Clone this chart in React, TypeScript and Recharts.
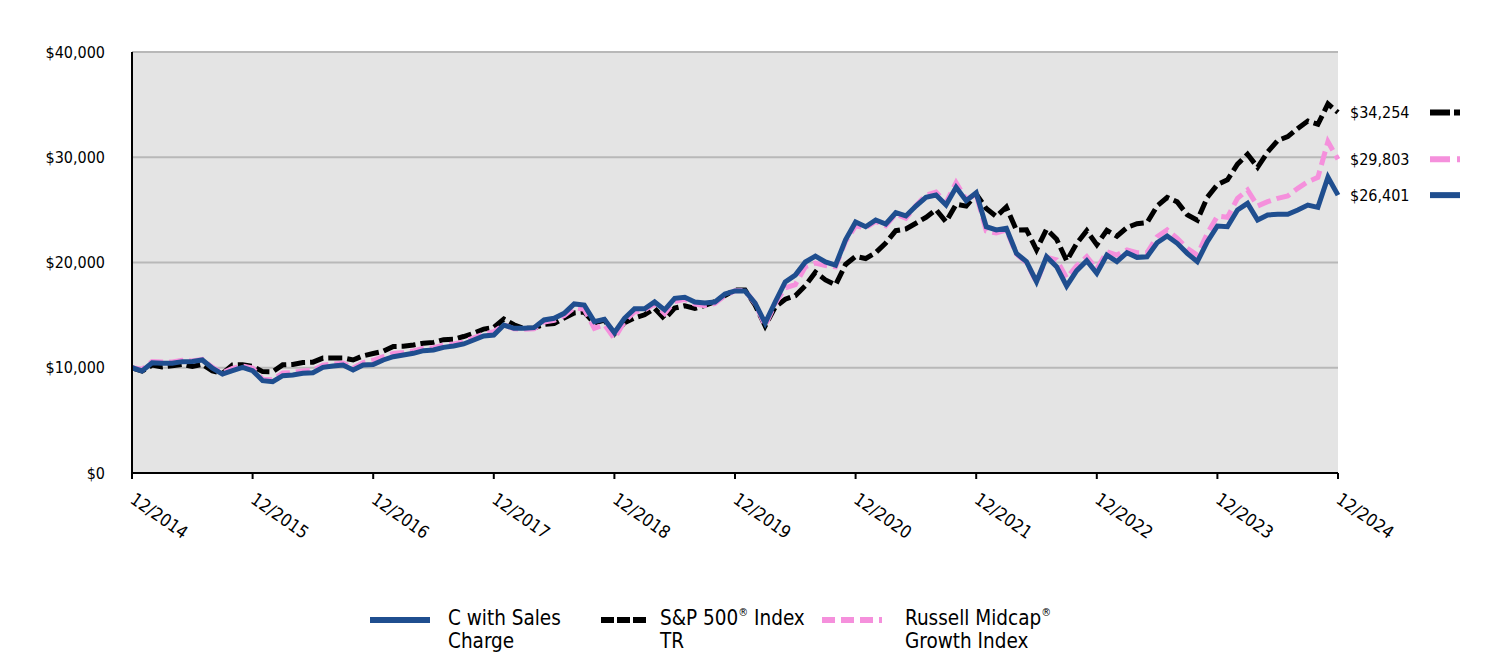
import React from 'react';
import { LineChart, Line, XAxis, YAxis, CartesianGrid, LabelList } from 'recharts';

const FONT = '"DejaVu Sans Condensed", "DejaVu Sans", sans-serif';

// month index 0 = 12/2014 ... 120 = 12/2024
const tickMonths = [0, 12, 24, 36, 48, 60, 72, 84, 96, 108, 120];
const tickLabels = ['12/2014', '12/2015', '12/2016', '12/2017', '12/2018', '12/2019', '12/2020', '12/2021', '12/2022', '12/2023', '12/2024'];
const yTicks = [0, 10000, 20000, 30000, 40000];

const seriesNames = ['C with Sales Charge', 'S&P 500® Index TR', 'Russell Midcap® Growth Index'];

const fundValues = [
  10000, 9700, 10480, 10420, 10420, 10580, 10600, 10740, 9950, 9400, 9720, 10040,
  9720, 8770, 8680, 9250, 9310, 9470, 9530, 10040, 10160, 10260, 9790, 10260,
  10300, 10740, 11050, 11210, 11370, 11620, 11690, 11940, 12070, 12260, 12640, 13020,
  13110, 14060, 13750, 13750, 13810, 14540, 14700, 15170, 16060, 15960, 14380, 14600,
  13330, 14700, 15600, 15600, 16250, 15500, 16600, 16700, 16250, 16150, 16250, 17000,
  17300, 17300, 16150, 14250, 16250, 18150, 18800, 20050, 20600, 20050, 19750, 22150,
  23850, 23400, 24040, 23660, 24730, 24420, 25370, 26190, 26410, 25460, 27140, 25870,
  26630, 23400, 23090, 23250, 20870, 20080, 18180, 20550, 19600, 17770, 19220, 20170,
  18970, 20700, 20080, 20930, 20490, 20550, 21880, 22520, 21820, 20870, 20080, 21980,
  23470, 23400, 24990, 25620, 24040, 24510, 24580, 24580, 24990, 25460, 25240, 28100,
  26401,
];

const sp500Values = [
  10000, 9690, 10247, 10085, 10182, 10313, 10113, 10325, 9702, 9462, 10260, 10290,
  10138, 9635, 9625, 10278, 10318, 10503, 10531, 10919, 10932, 10934, 10738, 11135,
  11351, 11566, 12025, 12039, 12162, 12333, 12410, 12666, 12704, 12966, 13268, 13675,
  13829, 14621, 14083, 13726, 13779, 14111, 14198, 14726, 15206, 15293, 14248, 14538,
  13223, 14282, 14741, 15028, 15637, 14636, 15667, 15893, 15640, 15933, 16278, 16869,
  17386, 17379, 15948, 13972, 15763, 16514, 16843, 17793, 19073, 18349, 17860, 19816,
  20585, 20377, 20940, 21857, 23023, 23184, 23726, 24289, 25026, 23864, 25537, 25357,
  26494, 25123, 24371, 25276, 23072, 23114, 21206, 23160, 22215, 20169, 21803, 23022,
  21696, 23059, 22496, 23322, 23686, 23790, 25362, 26177, 25760, 24530, 24014, 26206,
  27397, 27855, 29342, 30286, 29049, 30500, 31594, 31962, 32737, 33436, 33132, 35076,
  34254,
];

const russellValues = [
  10000, 9850, 10600, 10550, 10550, 10700, 10650, 10800, 10050, 9500, 9950, 10150,
  9980, 8900, 8850, 9500, 9550, 9700, 9750, 10250, 10350, 10450, 9950, 10500,
  10712, 11050, 11350, 11450, 11600, 11850, 11900, 12150, 12250, 12450, 12850, 13200,
  13419, 14100, 13700, 13650, 13700, 14350, 14500, 14950, 15700, 15550, 13750, 14100,
  12781, 14400, 15300, 15500, 16050, 15150, 16300, 16500, 16050, 15900, 16100, 16850,
  17314, 17350, 16100, 14000, 16100, 17600, 17900, 19600, 19950, 19700, 19600, 22000,
  23476, 23300, 23900, 23500, 24600, 24200, 25400, 26400, 26700, 25700, 27580, 26000,
  26464, 23000, 22800, 23100, 20800, 20000, 18100, 20500, 20240, 18530, 19700, 20550,
  19392, 21030, 20710, 21190, 20930, 20930, 22450, 23090, 22300, 21350, 20710, 22770,
  24409, 24290, 26100, 26890, 25370, 25780, 26100, 26320, 27050, 27680, 28090, 31480,
  29803,
];

const COLORS = { fund: '#1F4E8F', sp: '#000000', russell: '#F590DC' };
const DASH = { sp: '14 5', russell: '14 6' };

const data = fundValues.map((v, i) => ({ i, fund: v, sp: sp500Values[i], russell: russellValues[i] }));
const LAST = data.length - 1;

const fmt = (v: number) => '$' + v.toLocaleString('en-US');

const XTick = (props: any) => {
  const { x, y, payload } = props;
  const idx = tickMonths.indexOf(payload.value);
  const label = idx >= 0 ? tickLabels[idx] : '';
  const tx = x - 3;
  const ty = y + 21;
  return (
    <text
      x={tx}
      y={ty}
      transform={`rotate(35 ${tx} ${ty})`}
      textAnchor="start"
      fontSize={17.5}
      fontFamily={FONT}
      fill="#000"
    >
      {label}
    </text>
  );
};

const makeEndLabel = (color: string, dash?: string) => (props: any) => {
  const { x, y, index, value } = props;
  if (index !== LAST) return null;
  return (
    <g>
      <text x={x + 12} y={y} dy="0.35em" fontSize={16} fontFamily={FONT} fill="#000">
        {fmt(Number(value))}
      </text>
      <line x1={x + 92} x2={x + 122} y1={y} y2={y} stroke={color} strokeWidth={6} strokeDasharray={dash} />
    </g>
  );
};

const LegendSwatch = ({ color, dash, width }: { color: string; dash?: string; width: number }) => (
  <svg width={width} height={10} style={{ display: 'block' }}>
    <line x1={0} x2={width} y1={5} y2={5} stroke={color} strokeWidth={6} strokeDasharray={dash} />
  </svg>
);

const supStyle: React.CSSProperties = { fontSize: 11, verticalAlign: 'top', lineHeight: '12px' };

const legendItems = [
  { name: seriesNames[0], color: COLORS.fund, dash: undefined, swatchX: 362, swatchW: 60, textX: 440 },
  { name: seriesNames[1], color: COLORS.sp, dash: '13 3', swatchX: 593, swatchW: 45, textX: 652 },
  { name: seriesNames[2], color: COLORS.russell, dash: '13 6', swatchX: 814, swatchW: 60, textX: 897 },
];

export default function App() {
  return (
    <div style={{ position: 'relative', width: 1484, height: 644, fontFamily: FONT }}>
      <LineChart
        width={1484}
        height={644}
        data={data}
        margin={{ top: 44, right: 154, left: 44, bottom: 119 }}
      >
        <CartesianGrid horizontal vertical={false} stroke="#B8B8B8" strokeWidth={2} fill="#E4E4E4" />
        <XAxis
          dataKey="i"
          type="number"
          domain={[0, 120]}
          ticks={tickMonths}
          interval={0}
          height={60}
          axisLine={{ stroke: '#000', strokeWidth: 2 }}
          tickLine={{ stroke: '#000', strokeWidth: 2 }}
          tickSize={6}
          tick={<XTick />}
        />
        <YAxis
          type="number"
          domain={[0, 40000]}
          ticks={yTicks}
          interval={0}
          width={80}
          axisLine={{ stroke: '#000', strokeWidth: 2 }}
          tickLine={false}
          tickSize={6}
          tickMargin={21}
          tickFormatter={fmt}
          tick={{ fill: '#000', fontSize: 16, fontFamily: FONT }}
        />
        <Line
          type="linear"
          dataKey="sp"
          name={seriesNames[1]}
          stroke={COLORS.sp}
          strokeWidth={5}
          strokeDasharray={DASH.sp}
          dot={false}
          isAnimationActive={false}
        >
          <LabelList dataKey="sp" content={makeEndLabel(COLORS.sp, '20 4')} />
        </Line>
        <Line
          type="linear"
          dataKey="russell"
          name={seriesNames[2]}
          stroke={COLORS.russell}
          strokeWidth={5}
          strokeDasharray={DASH.russell}
          dot={false}
          isAnimationActive={false}
        >
          <LabelList dataKey="russell" content={makeEndLabel(COLORS.russell, '20 7')} />
        </Line>
        <Line
          type="linear"
          dataKey="fund"
          name={seriesNames[0]}
          stroke={COLORS.fund}
          strokeWidth={5}
          dot={false}
          isAnimationActive={false}
        >
          <LabelList dataKey="fund" content={makeEndLabel(COLORS.fund)} />
        </Line>
      </LineChart>
      {legendItems.map((it) => (
        <React.Fragment key={it.name}>
          <div style={{ position: 'absolute', left: it.swatchX, top: 607 }}>
            <LegendSwatch color={it.color} dash={it.dash} width={it.swatchW} />
          </div>
          <div
            style={{
              position: 'absolute',
              left: it.textX,
              top: 599,
              fontSize: 20.5,
              lineHeight: '23px',
              color: '#000',
              whiteSpace: 'nowrap',
            }}
          >
            {it.name === seriesNames[0] && (
              <>
                C with Sales
                <br />
                Charge
              </>
            )}
            {it.name === seriesNames[1] && (
              <>
                S&amp;P 500<sup style={supStyle}>®</sup> Index
                <br />
                TR
              </>
            )}
            {it.name === seriesNames[2] && (
              <>
                Russell Midcap<sup style={supStyle}>®</sup>
                <br />
                Growth Index
              </>
            )}
          </div>
        </React.Fragment>
      ))}
    </div>
  );
}
